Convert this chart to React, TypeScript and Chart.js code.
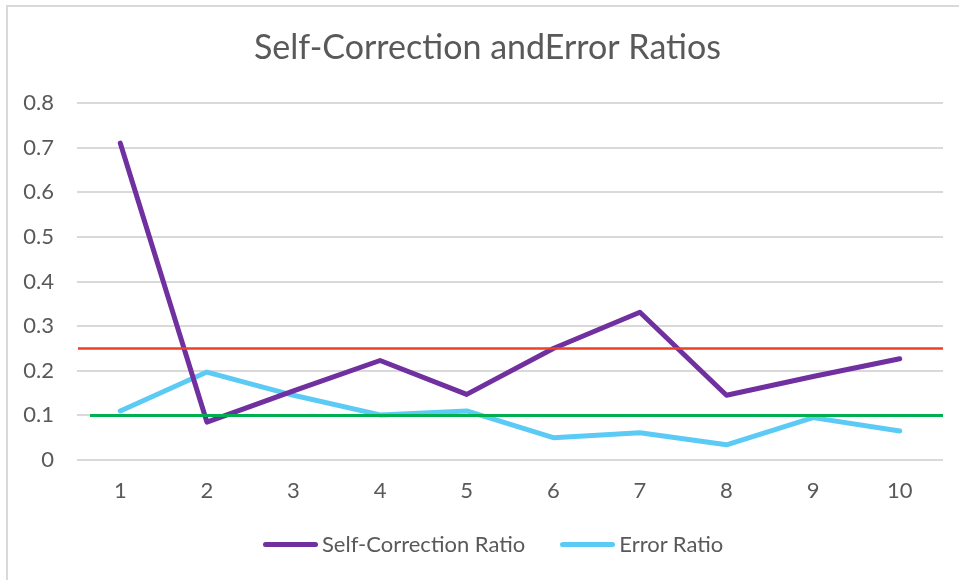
import React, { useEffect, useRef } from "react";
import { Chart, registerables } from "chart.js";

Chart.register(...registerables);

const categories = ["1", "2", "3", "4", "5", "6", "7", "8", "9", "10"];
const seriesNames = ["Self-Correction Ratio", "Error Ratio"];
const selfCorrection = [0.71, 0.085, 0.155, 0.223, 0.147, 0.25, 0.331, 0.145, 0.187, 0.227];
const errorRatio = [0.11, 0.197, 0.145, 0.101, 0.11, 0.05, 0.061, 0.034, 0.095, 0.065];
const thresholdValues = [0.25, 0.1];
const yTicks = [0, 0.1, 0.2, 0.3, 0.4, 0.5, 0.6, 0.7, 0.8];
const titleText = "Self-Correction andError Ratios";

const seriesColors = ["#7030A0", "#5BCBF5"];
const thresholdColors = ["#EE4024", "#00B050"];
const thresholdWidths = [2.5, 3];
const thresholdStartOffsets = [1, 13];

const FONT = "Lato, 'Open Sans', sans-serif";
const TEXT = "#595959";

const thresholdPlugin = {
  id: "thresholds",
  afterDatasetsDraw(chart: any) {
    const { ctx, chartArea, scales } = chart;
    ctx.save();
    thresholdValues.forEach((v, i) => {
      const y = scales.y.getPixelForValue(v);
      ctx.beginPath();
      ctx.strokeStyle = thresholdColors[i];
      ctx.lineWidth = thresholdWidths[i];
      ctx.moveTo(chartArea.left + thresholdStartOffsets[i], y);
      ctx.lineTo(chartArea.right, y);
      ctx.stroke();
    });
    ctx.restore();
  },
};

const framePlugin = {
  id: "frame",
  beforeDraw(chart: any) {
    const { ctx, width, height } = chart;
    ctx.save();
    ctx.fillStyle = "#ffffff";
    ctx.fillRect(0, 0, width, height);
    ctx.strokeStyle = "#d9d9d9";
    ctx.lineWidth = 2;
    ctx.beginPath();
    ctx.moveTo(7, height);
    ctx.lineTo(7, 6);
    ctx.lineTo(width, 6);
    ctx.stroke();
    ctx.restore();
  },
};

export default function App() {
  const ref = useRef<HTMLCanvasElement | null>(null);

  useEffect(() => {
    if (!ref.current) return;
    const chart = new Chart(ref.current, {
      type: "line",
      data: {
        labels: categories,
        datasets: [
          {
            label: seriesNames[0],
            data: selfCorrection,
            borderColor: seriesColors[0],
            backgroundColor: seriesColors[0],
            borderWidth: 5,
            pointRadius: 0,
            tension: 0,
            borderCapStyle: "round",
            borderJoinStyle: "round",
          },
          {
            label: seriesNames[1],
            data: errorRatio,
            borderColor: seriesColors[1],
            backgroundColor: seriesColors[1],
            borderWidth: 5,
            pointRadius: 0,
            tension: 0,
            borderCapStyle: "round",
            borderJoinStyle: "round",
          },
        ],
      },
      options: {
        animation: false,
        responsive: false,
        layout: { padding: { left: 16, right: 0, top: 0, bottom: 0 } },
        plugins: {
          legend: { display: false },
          tooltip: { enabled: false },
          title: {
            display: true,
            text: titleText,
            color: TEXT,
            font: { family: FONT, size: 34, weight: "normal", lineHeight: 1.2 },
            padding: { top: 28, bottom: 34.2 },
          },
        },
        scales: {
          x: {
            offset: true,
            grid: { display: false },
            border: { display: false },
            ticks: {
              color: TEXT,
              font: { family: FONT, size: 22 },
              padding: 10,
              maxRotation: 0,
            },
            afterFit(scale: any) {
              scale.height = 120;
            },
          },
          y: {
            min: 0,
            max: 0.8,
            afterBuildTicks(scale: any) {
              scale.ticks = yTicks.map((v) => ({ value: v }));
            },
            grid: { color: "#d9d9d9", lineWidth: 2, drawTicks: false },
            border: { display: false },
            ticks: {
              color: TEXT,
              font: { family: FONT, size: 22 },
              padding: 23,
              callback: (v: any) => String(Math.round(Number(v) * 10) / 10),
            },
            afterFit(scale: any) {
              scale.width = 61;
            },
          },
          yRightSpacer: {
            type: "linear",
            position: "right",
            min: 0,
            max: 0.8,
            grid: { display: false, drawTicks: false },
            border: { display: false },
            ticks: { display: false },
            afterFit(scale: any) {
              scale.width = 16;
            },
          },
        },
      },
      plugins: [framePlugin, thresholdPlugin],
    });
    return () => chart.destroy();
  }, []);

  return (
    <div style={{ position: "absolute", left: 0, top: 0, width: 959, height: 580, background: "#fff" }}>
      <canvas ref={ref} width={959} height={580} style={{ display: "block" }} />
      <div
        style={{
          position: "absolute",
          left: 263,
          top: 532,
          display: "flex",
          alignItems: "center",
          fontFamily: FONT,
          fontSize: 22,
          color: TEXT,
          lineHeight: "24px",
          whiteSpace: "nowrap",
        }}
      >
        {seriesNames.map((name, i) => (
          <div key={name} style={{ display: "flex", alignItems: "center", marginRight: i === 0 ? 35 : 0 }}>
            <span
              style={{
                display: "inline-block",
                width: 55,
                height: 5,
                borderRadius: 3,
                background: seriesColors[i],
                marginRight: 4,
              }}
            />
            <span>{name}</span>
          </div>
        ))}
      </div>
    </div>
  );
}
